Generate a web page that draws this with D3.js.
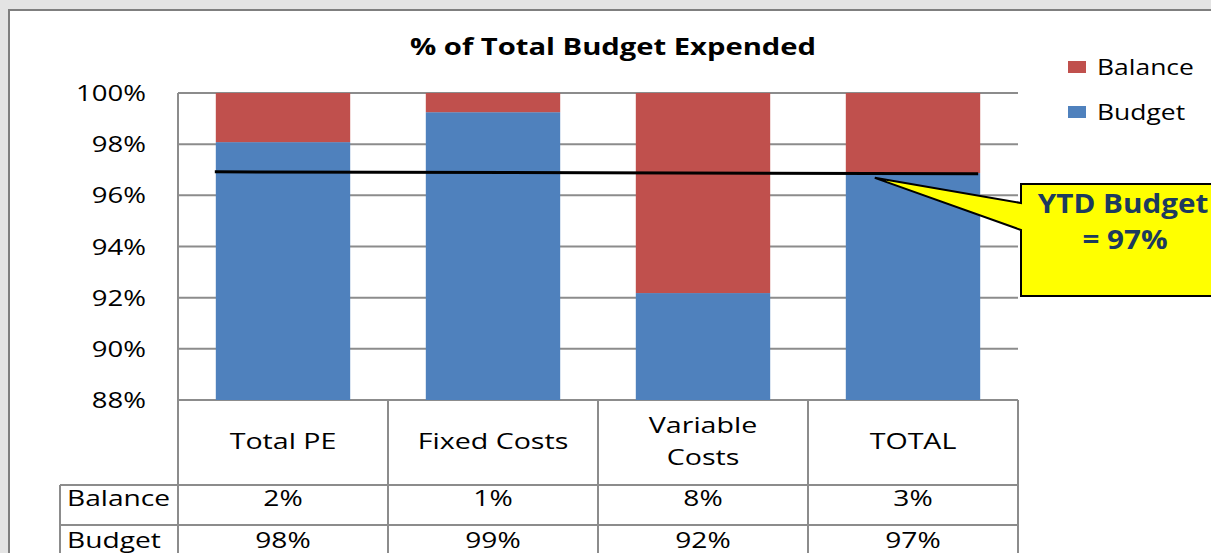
<!DOCTYPE html>
<html>
<head>
<meta charset="utf-8">
<script src="https://cdn.jsdelivr.net/npm/d3@7"></script>
<style>
  body { margin: 0; background: #e4e4e4; }
  svg { display: block; font-family: "Open Sans", sans-serif; }
</style>
</head>
<body>
<svg width="1211" height="553"></svg>
<script>
// chart data
var categories = ["Total PE", "Fixed Costs", "Variable Costs", "TOTAL"];
var categoryLines = [["Total PE"], ["Fixed Costs"], ["Variable", "Costs"], ["TOTAL"]];
var budget = [98.08, 99.25, 92.18, 96.87];
var balance = budget.map(function (d) { return 100 - d; });
var seriesNames = ["Balance", "Budget"];
var yTicks = [88, 90, 92, 94, 96, 98, 100];
var ytdLine = [96.92, 96.84];   // start, end of the YTD marker
var ytdLabel = ["YTD Budget", "= 97%"];

var colors = { Balance: "#C0504D", Budget: "#4F81BD" };
var gridColor = "#8c8c8c";
var stretch = 1.27;   // the original slide text is drawn wide

var svg = d3.select("svg"),
    width = +svg.attr("width"),
    height = +svg.attr("height");

// text helper: places a horizontally stretched label
function label(parent, px, py, str, size, anchor, sx) {
    return parent.append("text")
        .attr("transform", "translate(" + px + "," + py + ") scale(" + (sx || stretch) + ",1)")
        .attr("text-anchor", anchor || "start")
        .attr("font-size", size)
        .text(str);
}

// chart frame
svg.append("rect")
    .attr("x", 9).attr("y", 10)
    .attr("width", width + 20).attr("height", height + 20)
    .attr("fill", "#fff")
    .attr("stroke", "#7f7f7f")
    .attr("stroke-width", 2);

var x = d3.scaleBand()
    .domain(categories)
    .range([178, 1018])
    .paddingInner(0.36)
    .paddingOuter(0.18);

var y = d3.scaleLinear()
    .domain([88, 100])
    .range([400, 93]);

// grid lines
svg.append("g")
    .selectAll("line")
    .data(yTicks)
    .enter().append("line")
    .attr("x1", 178).attr("x2", 1018)
    .attr("y1", function (d) { return y(d); })
    .attr("y2", function (d) { return y(d); })
    .attr("stroke", gridColor)
    .attr("stroke-width", 2);

svg.append("line")
    .attr("x1", 178).attr("x2", 178)
    .attr("y1", y(100)).attr("y2", y(88))
    .attr("stroke", gridColor).attr("stroke-width", 2);

// y tick labels
var yLab = svg.append("g");
yTicks.forEach(function (t) {
    label(yLab, 146, y(t) + 8, t + "%", 22, "end", 1.25);
});

// stacked bars
var stackData = categories.map(function (c, i) {
    return { cat: c, Budget: budget[i], Balance: balance[i] };
});
var layers = d3.stack().keys(["Budget", "Balance"])(stackData);

svg.append("g")
    .selectAll("g")
    .data(layers)
    .enter().append("g")
    .attr("fill", function (d) { return colors[d.key]; })
    .selectAll("rect")
    .data(function (d) { return d; })
    .enter().append("rect")
    .attr("x", function (d) { return x(d.data.cat); })
    .attr("width", x.bandwidth())
    .attr("y", function (d) { return y(Math.min(d[1], 100)); })
    .attr("height", function (d) {
        var lo = Math.max(d[0], 88), hi = Math.min(d[1], 100);
        return Math.max(0, y(lo) - y(hi));
    });

// YTD budget line
var lastCat = categories[categories.length - 1];
svg.append("line")
    .attr("x1", x(categories[0]) - 1)
    .attr("x2", x(lastCat) + x.bandwidth() - 2)
    .attr("y1", y(ytdLine[0]))
    .attr("y2", y(ytdLine[1]))
    .attr("stroke", "#000")
    .attr("stroke-width", 3);

// callout
var tipX = x(lastCat) + 29, tipY = y(ytdLine[1]) + 4;
var bx = 1021, by = 184, bw = 200, bh = 112;
svg.append("path")
    .attr("d", "M" + bx + "," + by + "L" + (bx + bw) + "," + by +
        "L" + (bx + bw) + "," + (by + bh) + "L" + bx + "," + (by + bh) +
        "L" + bx + "," + (by + 46) + "L" + tipX + "," + tipY +
        "L" + bx + "," + (by + 19) + "Z")
    .attr("fill", "#ffff00")
    .attr("stroke", "#000")
    .attr("stroke-width", 2);

var call = svg.append("g").attr("font-weight", "bold").attr("fill", "#1c3a5e");
label(call, 1123, 213, ytdLabel[0], 26, "middle", 1.14);
label(call, 1125, 249, ytdLabel[1], 26, "middle", 1.14);

// title
label(svg.append("g").attr("font-weight", "bold"), 613, 55, "% of Total Budget Expended", 23, "middle", 1.27);

// legend
var legend = svg.append("g")
    .selectAll("g")
    .data(seriesNames)
    .enter().append("g")
    .attr("transform", function (d, i) { return "translate(1068," + (61 + i * 45) + ")"; });
legend.append("rect")
    .attr("width", 18).attr("height", 12)
    .attr("fill", function (d) { return colors[d]; });
legend.each(function (d) {
    label(d3.select(this), 29, 14, d, 21, "start", 1.26);
});

// data table grid
var table = svg.append("g").attr("stroke", gridColor).attr("stroke-width", 2);
var bounds = d3.range(categories.length + 1).map(function (i) { return 178 + i * x.step(); });
table.selectAll("line.v")
    .data(bounds)
    .enter().append("line")
    .attr("x1", function (d) { return d; }).attr("x2", function (d) { return d; })
    .attr("y1", 400).attr("y2", height + 5);
table.append("line").attr("x1", 60).attr("x2", 60).attr("y1", 485).attr("y2", height + 5);
table.selectAll("line.h")
    .data([485, 525])
    .enter().append("line")
    .attr("x1", 60).attr("x2", 1018)
    .attr("y1", function (d) { return d; }).attr("y2", function (d) { return d; });

// category header cells
var head = svg.append("g");
categoryLines.forEach(function (lines, i) {
    var cx = x(categories[i]) + x.bandwidth() / 2;
    var y0 = lines.length > 1 ? 433 : 449;
    lines.forEach(function (s, j) {
        label(head, cx, y0 + j * 32, s, 22, "middle", 1.3);
    });
});

// row headers and values
var rows = [
    { name: "Balance", vals: balance, y: 506 },
    { name: "Budget", vals: budget, y: 548 }
];
var body = svg.append("g");
rows.forEach(function (r) {
    label(body, 67, r.y, r.name, 22, "start", 1.28);
    r.vals.forEach(function (v, i) {
        label(body, x(categories[i]) + x.bandwidth() / 2, r.y, Math.round(v) + "%", 22, "middle", 1.28);
    });
});
</script>
</body>
</html>
